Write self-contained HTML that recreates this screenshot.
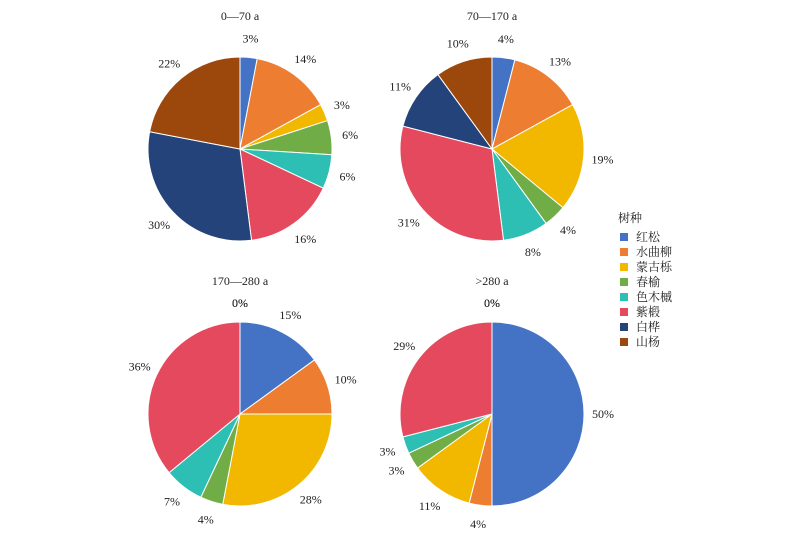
<!DOCTYPE html>
<html><head><meta charset="utf-8">
<style>
body{margin:0;background:#fff;}
svg{display:block;font-family:"Liberation Serif","Noto Serif CJK SC",serif;}
</style></head>
<body>
<svg id="c" width="800" height="536" viewBox="0 0 800 536"></svg>
<script>
const species = ["红松","水曲柳","蒙古栎","春榆","色木槭","紫椴","白桦","山杨"];
const colors = ["#4472C4","#ED7D31","#F2B800","#70AD47","#2DBFB4","#E5495D","#24437A","#9C480D"];
const panelTitles = ["0—70 a","70—170 a","170—280 a",">280 a"];
const vals0 = [3,14,3,6,6,16,30,22];
const vals1 = [4,13,19,4,8,31,11,10];
const vals2 = [15,10,28,4,7,36,0,0];
const vals3 = [50,4,11,3,3,29,0,0];
const allVals = [vals0,vals1,vals2,vals3];
const centers = [[240,149],[492,149],[240,414],[492,414]];
const R = 92;
const svg = document.getElementById('c');
const NS = "http://www.w3.org/2000/svg";
function mk(tag, attrs){const e=document.createElementNS(NS,tag);for(const k in attrs)e.setAttribute(k,attrs[k]);svg.appendChild(e);return e;}
function pt(cx,cy,r,frac){const a=frac*2*Math.PI;return [cx+r*Math.sin(a),cy-r*Math.cos(a)];}
allVals.forEach((vals,p)=>{
  const [cx,cy]=centers[p];
  const total=vals.reduce((a,b)=>a+b,0);
  const t=mk('text',{x:cx,y:cy-129,'text-anchor':'middle','font-size':12,fill:'#222'});
  t.textContent=panelTitles[p];
  
  
  let acc=0;
  vals.forEach((v,i)=>{
    const f0=acc/total, f1=(acc+v)/total;
    if(v>0){
      const [x0,y0]=pt(cx,cy,R,f0),[x1,y1]=pt(cx,cy,R,f1);
      const large=(f1-f0)>0.5?1:0;
      const path=mk('path',{d:`M${cx},${cy}L${x0},${y0}A${R},${R} 0 ${large} 1 ${x1},${y1}Z`,fill:colors[i],stroke:'#fff','stroke-width':1});
      
      
    }
    const [lx,ly]=pt(cx,cy,R+19,(f0+f1)/2);
    const lab=mk('text',{x:lx,y:ly+4,'text-anchor':'middle','font-size':12,fill:'#222'});
    lab.textContent=v+'%';
    
    
    acc+=v;
  });
});
const lt=mk('text',{x:618,y:222,'font-size':12,fill:'#222'});
lt.textContent="树种";


species.forEach((s,i)=>{
  const y=237+i*15;
  const r=mk('rect',{x:620,y:y-4,width:8,height:8,fill:colors[i]});
  
  
  const t=mk('text',{x:636,y:y+4,'font-size':12,fill:'#222'});
  t.textContent=s;
  
  
});
</script>
</body></html>
